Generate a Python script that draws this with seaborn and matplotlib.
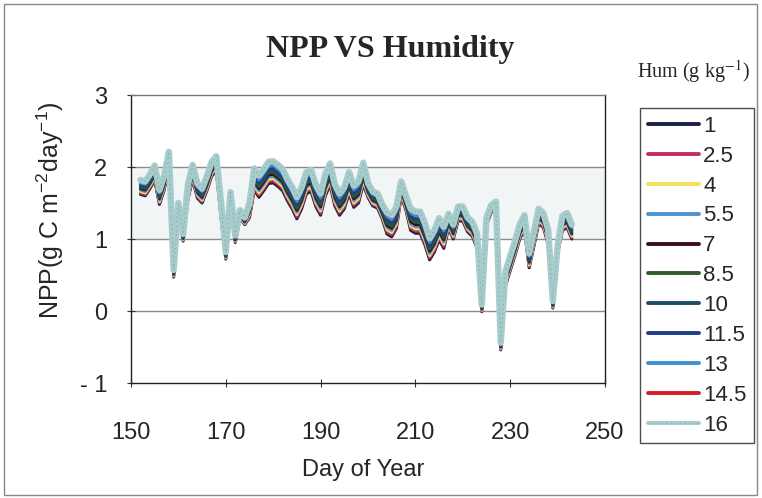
import matplotlib
matplotlib.use("Agg")
import matplotlib.pyplot as plt
from matplotlib.lines import Line2D
from matplotlib.patches import Rectangle
from matplotlib.ticker import FixedLocator, FixedFormatter
from matplotlib.legend_handler import HandlerTuple
import seaborn as sns

# Day of year for each simulated value
days = list(range(152, 244))

# Simulated daily NPP (g C m-2 day-1) for each specific humidity level (g kg-1)
npp_1 = [1.62, 1.60, 1.70, 1.82, 1.48, 1.68, 2.01,
         0.47, 1.40, 0.97,
         1.55, 1.83, 1.57, 1.50, 1.67, 1.87, 1.95, 1.30,
         0.72, 1.45, 0.95, 1.30, 1.20, 1.30,
         1.68, 1.58, 1.67, 1.77, 1.78, 1.73, 1.67, 1.53, 1.42, 1.28, 1.42, 1.63,
         1.66, 1.45, 1.33, 1.60, 1.75, 1.46, 1.33, 1.42, 1.63, 1.44, 1.50, 1.76,
         1.58, 1.46, 1.43, 1.28, 1.07, 1.03, 1.15, 1.60, 1.40,
         1.12, 1.08, 1.08, 0.92, 0.71, 0.82, 0.99, 0.87,
         1.15, 1.00, 1.25, 1.25, 1.10, 1.04, 0.88,
         -0.01, 1.20, 1.37, 1.42, -0.54,
         0.35, 0.56, 0.77, 1.00, 1.13, 0.60, 0.90, 1.22, 1.16, 0.93,
         0.04, 0.80, 1.12, 1.16, 1.00]
npp_2_5 = [1.64, 1.62, 1.72, 1.84, 1.50, 1.70, 2.03,
           0.48, 1.41, 0.98,
           1.57, 1.85, 1.59, 1.52, 1.69, 1.89, 1.97, 1.32,
           0.73, 1.47, 0.96, 1.31, 1.21, 1.32,
           1.71, 1.61, 1.70, 1.80, 1.81, 1.76, 1.70, 1.56, 1.45, 1.31, 1.45, 1.66,
           1.69, 1.48, 1.36, 1.63, 1.78, 1.49, 1.36, 1.45, 1.66, 1.47, 1.53, 1.79,
           1.60, 1.48, 1.45, 1.30, 1.10, 1.06, 1.18, 1.62, 1.42,
           1.15, 1.11, 1.11, 0.95, 0.74, 0.85, 1.02, 0.90,
           1.17, 1.02, 1.27, 1.27, 1.12, 1.06, 0.90,
           0.00, 1.21, 1.38, 1.43, -0.53,
           0.37, 0.58, 0.79, 1.02, 1.15, 0.62, 0.92, 1.24, 1.18, 0.95,
           0.05, 0.81, 1.14, 1.18, 1.02]
npp_4 = [1.66, 1.64, 1.74, 1.86, 1.52, 1.72, 2.05,
         0.49, 1.42, 0.99,
         1.59, 1.87, 1.61, 1.54, 1.71, 1.91, 1.99, 1.34,
         0.74, 1.49, 0.97, 1.32, 1.22, 1.34,
         1.74, 1.64, 1.73, 1.83, 1.84, 1.79, 1.73, 1.59, 1.48, 1.34, 1.48, 1.69,
         1.72, 1.51, 1.39, 1.66, 1.81, 1.52, 1.39, 1.48, 1.69, 1.50, 1.56, 1.82,
         1.62, 1.50, 1.47, 1.32, 1.13, 1.09, 1.21, 1.64, 1.44,
         1.18, 1.14, 1.14, 0.98, 0.77, 0.88, 1.05, 0.93,
         1.19, 1.04, 1.29, 1.29, 1.14, 1.08, 0.92,
         0.01, 1.22, 1.39, 1.44, -0.52,
         0.39, 0.60, 0.81, 1.04, 1.17, 0.64, 0.94, 1.26, 1.20, 0.97,
         0.06, 0.82, 1.16, 1.20, 1.04]
npp_5_5 = [1.68, 1.66, 1.76, 1.88, 1.54, 1.74, 2.07,
           0.50, 1.43, 1.00,
           1.61, 1.89, 1.63, 1.56, 1.73, 1.93, 2.01, 1.36,
           0.75, 1.51, 0.98, 1.33, 1.23, 1.36,
           1.77, 1.67, 1.76, 1.86, 1.87, 1.82, 1.76, 1.62, 1.51, 1.37, 1.51, 1.72,
           1.75, 1.54, 1.42, 1.69, 1.84, 1.55, 1.42, 1.51, 1.72, 1.53, 1.59, 1.85,
           1.64, 1.52, 1.49, 1.34, 1.16, 1.12, 1.24, 1.66, 1.46,
           1.21, 1.17, 1.17, 1.01, 0.80, 0.91, 1.08, 0.96,
           1.21, 1.06, 1.31, 1.31, 1.16, 1.10, 0.94,
           0.02, 1.23, 1.40, 1.45, -0.51,
           0.41, 0.62, 0.83, 1.06, 1.19, 0.66, 0.96, 1.28, 1.22, 0.99,
           0.07, 0.83, 1.18, 1.22, 1.06]
npp_7 = [1.70, 1.68, 1.78, 1.90, 1.56, 1.76, 2.09,
         0.51, 1.44, 1.01,
         1.63, 1.91, 1.65, 1.58, 1.75, 1.95, 2.03, 1.38,
         0.76, 1.53, 0.99, 1.34, 1.24, 1.38,
         1.80, 1.70, 1.79, 1.89, 1.90, 1.85, 1.79, 1.65, 1.54, 1.40, 1.54, 1.75,
         1.78, 1.57, 1.45, 1.72, 1.87, 1.58, 1.45, 1.54, 1.75, 1.56, 1.62, 1.88,
         1.66, 1.54, 1.51, 1.36, 1.19, 1.15, 1.27, 1.68, 1.48,
         1.24, 1.20, 1.20, 1.04, 0.83, 0.94, 1.11, 0.99,
         1.23, 1.08, 1.33, 1.33, 1.18, 1.12, 0.96,
         0.03, 1.24, 1.41, 1.46, -0.50,
         0.43, 0.64, 0.85, 1.08, 1.21, 0.68, 0.98, 1.30, 1.24, 1.01,
         0.08, 0.84, 1.20, 1.24, 1.08]
npp_8_5 = [1.72, 1.70, 1.80, 1.92, 1.58, 1.78, 2.11,
           0.52, 1.45, 1.02,
           1.65, 1.93, 1.67, 1.60, 1.77, 1.97, 2.05, 1.40,
           0.77, 1.55, 1.00, 1.35, 1.25, 1.40,
           1.83, 1.73, 1.82, 1.92, 1.93, 1.88, 1.82, 1.68, 1.57, 1.43, 1.57, 1.78,
           1.81, 1.60, 1.48, 1.75, 1.90, 1.61, 1.48, 1.57, 1.78, 1.59, 1.65, 1.91,
           1.68, 1.56, 1.53, 1.38, 1.22, 1.18, 1.30, 1.70, 1.50,
           1.27, 1.23, 1.23, 1.07, 0.86, 0.97, 1.14, 1.02,
           1.25, 1.10, 1.35, 1.35, 1.20, 1.14, 0.98,
           0.04, 1.25, 1.42, 1.47, -0.49,
           0.45, 0.66, 0.87, 1.10, 1.23, 0.70, 1.00, 1.32, 1.26, 1.03,
           0.09, 0.85, 1.22, 1.26, 1.10]
npp_10 = [1.74, 1.72, 1.82, 1.94, 1.60, 1.80, 2.13,
          0.53, 1.46, 1.03,
          1.67, 1.95, 1.69, 1.62, 1.79, 1.99, 2.07, 1.42,
          0.78, 1.57, 1.01, 1.36, 1.26, 1.42,
          1.86, 1.76, 1.85, 1.95, 1.96, 1.91, 1.85, 1.71, 1.60, 1.46, 1.60, 1.81,
          1.84, 1.63, 1.51, 1.78, 1.93, 1.64, 1.51, 1.60, 1.81, 1.62, 1.68, 1.94,
          1.70, 1.58, 1.55, 1.40, 1.25, 1.21, 1.33, 1.72, 1.52,
          1.30, 1.26, 1.26, 1.10, 0.89, 1.00, 1.17, 1.05,
          1.27, 1.12, 1.37, 1.37, 1.22, 1.16, 1.00,
          0.05, 1.26, 1.43, 1.48, -0.48,
          0.47, 0.68, 0.89, 1.12, 1.25, 0.72, 1.02, 1.34, 1.28, 1.05,
          0.10, 0.86, 1.24, 1.28, 1.12]
npp_11_5 = [1.76, 1.74, 1.84, 1.96, 1.62, 1.82, 2.15,
            0.54, 1.47, 1.04,
            1.69, 1.97, 1.71, 1.64, 1.81, 2.01, 2.09, 1.44,
            0.79, 1.59, 1.02, 1.37, 1.27, 1.44,
            1.89, 1.79, 1.88, 1.98, 1.99, 1.94, 1.88, 1.74, 1.63, 1.49, 1.63, 1.84,
            1.87, 1.66, 1.54, 1.81, 1.96, 1.67, 1.54, 1.63, 1.84, 1.65, 1.71, 1.97,
            1.72, 1.60, 1.57, 1.42, 1.28, 1.24, 1.36, 1.74, 1.54,
            1.33, 1.29, 1.29, 1.13, 0.92, 1.03, 1.20, 1.08,
            1.29, 1.14, 1.39, 1.39, 1.24, 1.18, 1.02,
            0.06, 1.27, 1.44, 1.49, -0.47,
            0.49, 0.70, 0.91, 1.14, 1.27, 0.74, 1.04, 1.36, 1.30, 1.07,
            0.11, 0.87, 1.26, 1.30, 1.14]
npp_13 = [1.78, 1.76, 1.86, 1.98, 1.64, 1.84, 2.17,
          0.55, 1.48, 1.05,
          1.71, 1.99, 1.73, 1.66, 1.83, 2.03, 2.11, 1.46,
          0.80, 1.61, 1.03, 1.38, 1.28, 1.46,
          1.92, 1.82, 1.91, 2.01, 2.02, 1.97, 1.91, 1.77, 1.66, 1.52, 1.66, 1.87,
          1.90, 1.69, 1.57, 1.84, 1.99, 1.70, 1.57, 1.66, 1.87, 1.68, 1.74, 2.00,
          1.74, 1.62, 1.59, 1.44, 1.31, 1.27, 1.39, 1.76, 1.56,
          1.36, 1.32, 1.32, 1.16, 0.95, 1.06, 1.23, 1.11,
          1.31, 1.16, 1.41, 1.41, 1.26, 1.20, 1.04,
          0.07, 1.28, 1.45, 1.50, -0.46,
          0.51, 0.72, 0.93, 1.16, 1.29, 0.76, 1.06, 1.38, 1.32, 1.09,
          0.12, 0.88, 1.28, 1.32, 1.16]
npp_14_5 = [1.80, 1.78, 1.88, 2.00, 1.66, 1.86, 2.19,
            0.56, 1.49, 1.06,
            1.73, 2.01, 1.75, 1.68, 1.85, 2.05, 2.13, 1.48,
            0.81, 1.63, 1.04, 1.39, 1.29, 1.48,
            1.95, 1.85, 1.94, 2.04, 2.05, 2.00, 1.94, 1.80, 1.69, 1.55, 1.69, 1.90,
            1.93, 1.72, 1.60, 1.87, 2.02, 1.73, 1.60, 1.69, 1.90, 1.71, 1.77, 2.03,
            1.76, 1.64, 1.61, 1.46, 1.34, 1.30, 1.42, 1.78, 1.58,
            1.39, 1.35, 1.35, 1.19, 0.98, 1.09, 1.26, 1.14,
            1.33, 1.18, 1.43, 1.43, 1.28, 1.22, 1.06,
            0.08, 1.29, 1.46, 1.51, -0.45,
            0.53, 0.74, 0.95, 1.18, 1.31, 0.78, 1.08, 1.40, 1.34, 1.11,
            0.13, 0.89, 1.30, 1.34, 1.18]
npp_16 = [1.82, 1.80, 1.90, 2.02, 1.68, 1.88, 2.21,
          0.57, 1.50, 1.07,
          1.75, 2.03, 1.77, 1.70, 1.87, 2.07, 2.15, 1.50,
          0.82, 1.65, 1.05, 1.40, 1.30, 1.50,
          1.98, 1.88, 1.97, 2.07, 2.08, 2.03, 1.97, 1.83, 1.72, 1.58, 1.72, 1.93,
          1.96, 1.75, 1.63, 1.90, 2.05, 1.76, 1.63, 1.72, 1.93, 1.74, 1.80, 2.06,
          1.78, 1.66, 1.63, 1.48, 1.37, 1.33, 1.45, 1.80, 1.60,
          1.42, 1.38, 1.38, 1.22, 1.01, 1.12, 1.29, 1.17,
          1.35, 1.20, 1.45, 1.45, 1.30, 1.24, 1.08,
          0.09, 1.30, 1.47, 1.52, -0.44,
          0.55, 0.76, 0.97, 1.20, 1.33, 0.80, 1.10, 1.42, 1.36, 1.13,
          0.14, 0.90, 1.32, 1.36, 1.20]

hum_labels = ["1", "2.5", "4", "5.5", "7", "8.5", "10", "11.5", "13", "14.5", "16"]
series = [npp_1, npp_2_5, npp_4, npp_5_5, npp_7, npp_8_5,
          npp_10, npp_11_5, npp_13, npp_14_5, npp_16]
colors = ["#1b1f4a", "#c42e5c", "#f2e35a", "#4b93d1", "#3d0d1c", "#2f5b2c",
          "#1f4c63", "#1e3c8f", "#3f8fd4", "#d21f2b", "#a7cccc"]

x_ticks = [150, 170, 190, 210, 230, 250]
y_ticks = [-1, 0, 1, 2, 3]
y_tick_labels = ["- 1", "0", "1", "2", "3"]

sns.set_style("white")
plt.rcParams["font.family"] = ["Liberation Sans", "DejaVu Sans"]
plt.rcParams["mathtext.fontset"] = "custom"
plt.rcParams["mathtext.rm"] = "Liberation Sans"
plt.rcParams["mathtext.it"] = "Liberation Sans:italic"
plt.rcParams["mathtext.bf"] = "Liberation Sans:bold"

W, H = 762, 498
fig = plt.figure(figsize=(W / 100, H / 100), dpi=100)
fig.patch.set_facecolor("white")

# plot area in pixel coordinates
L, R, T, B = 131, 605, 95, 383
ax = fig.add_axes([L / W, 1 - B / H, (R - L) / W, (B - T) / H])
ax.set_facecolor("white")

# shaded band and horizontal gridlines
ax.axhspan(1, 2, color="#f2f5f5", zorder=0, lw=0)
for g in [0, 1, 2]:
    ax.axhline(g, color="#8c8c8c", lw=1.0, zorder=0.5)

speckle = "#8fb3b3"
for vals, col, lab in zip(series, colors, hum_labels):
    lw = 4.6 if lab == "16" else 2.2
    sns.lineplot(x=days, y=vals, color=col, linewidth=lw, ax=ax,
                 solid_capstyle="round", solid_joinstyle="round")
    if lab == "16":
        # grainy texture along the widest line
        sns.lineplot(x=days, y=vals, color=speckle, linewidth=1.0, ax=ax,
                     linestyle=(0, (1, 2.2)))

ax.set_xlim(150, 250)
ax.set_ylim(-1, 3)
ax.xaxis.set_major_locator(FixedLocator(x_ticks))
ax.xaxis.set_major_formatter(FixedFormatter([str(v) for v in x_ticks]))
ax.yaxis.set_major_locator(FixedLocator(y_ticks))
ax.yaxis.set_major_formatter(FixedFormatter(y_tick_labels))
ax.tick_params(axis="x", direction="inout", length=6, width=0.8, color="#333333",
               labelsize=17, pad=25, bottom=True)
ax.tick_params(axis="y", direction="inout", length=6, width=0.8, color="#333333",
               labelsize=17, pad=14, left=True)
ax.set_xlabel("")
ax.set_ylabel("")

for side in ["left", "bottom", "right"]:
    ax.spines[side].set_color("#222222")
    ax.spines[side].set_linewidth(1.0)
ax.spines["top"].set_color("#777777")
ax.spines["top"].set_linewidth(1.0)

# axis titles
fig.text(363 / W, 1 - 476 / H, "Day of Year", ha="center", va="baseline",
         fontsize=17)
fig.text(50 / W, 1 - 210 / H, "NPP(g C m$^{-2}$day$^{-1}$)", rotation=90,
         ha="center", va="center", fontsize=18)

# chart title
fig.text(390 / W, 1 - 50 / H, "NPP VS Humidity", ha="center", va="center",
         fontsize=23, fontweight="bold", family="Liberation Serif")

# legend with its heading
fig.text(693 / W, 1 - 72 / H, "Hum (g kg$^{-1}$)", ha="center", va="center",
         fontsize=14.5, family="Liberation Serif", math_fontfamily="stix")
handles = []
for c, lab in zip(colors, hum_labels):
    base = Line2D([0], [0], color=c, lw=2.8, solid_capstyle="round")
    if lab == "16":
        dots = Line2D([0], [0], color=speckle, lw=1.0, linestyle=(0, (1, 2.2)))
        handles.append((base, dots))
    else:
        handles.append(base)
leg = ax.legend(handles, hum_labels, loc="upper left",
                bbox_to_anchor=(640 / W, 1 - 108 / H), bbox_transform=fig.transFigure,
                fontsize=16, frameon=True, fancybox=False, edgecolor="#222222",
                handlelength=2.3, handletextpad=0.2, labelspacing=0.40,
                borderpad=0.35, borderaxespad=0,
                handler_map={tuple: HandlerTuple(ndivide=1, pad=0)})
leg.get_frame().set_linewidth(1.0)

# outer chart border
fig.patches.append(Rectangle((4 / W, 3 / H), (W - 9) / W, (H - 7) / H,
                             transform=fig.transFigure, fill=False,
                             edgecolor="#888888", lw=1.0))

fig.savefig("out.png", dpi=100, facecolor="white")
